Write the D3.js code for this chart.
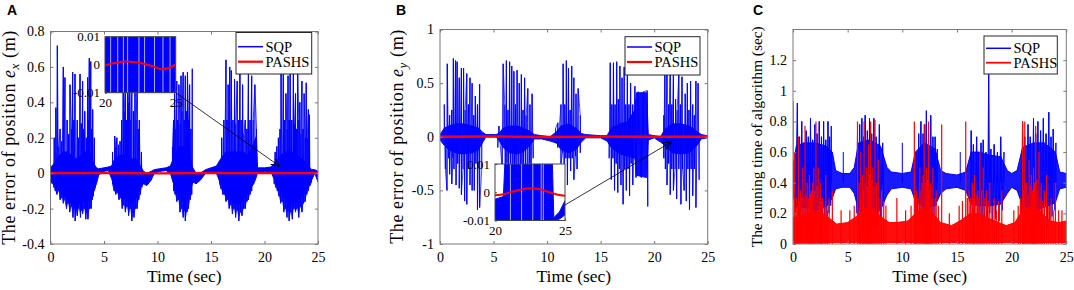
<!DOCTYPE html>
<html>
<head>
<meta charset="utf-8">
<script src="https://cdn.jsdelivr.net/npm/d3@7"></script>
<style>
  body { margin: 0; background: #fff; }
  svg { display: block; }
  text { font-family: "Liberation Serif", "Times New Roman", serif; fill: #000; }
  text.letter { font-family: "Liberation Sans", Arial, sans-serif; font-weight: bold; }
</style>
</head>
<body>
<svg id="chart" width="1074" height="290"></svg>
<script>
// ---------- data ----------
// every panel shares the time axis (sec)
const timeTicks = [0, 5, 10, 15, 20, 25];

// panel A: error of position e_x
const yTicksA = [-0.4, -0.2, 0, 0.2, 0.4, 0.6, 0.8];
// dense core of the SQP trace: [t, low, high]
const sqpCoreA = [
  [0, -0.05, 0.03], [0.4, -0.07, 0.06], [0.8, -0.1, 0.1], [1.2, -0.12, 0.12], [1.6, -0.15, 0.12],
  [2.0, -0.17, 0.1], [2.4, -0.18, 0.08], [2.8, -0.17, 0.1], [3.2, -0.16, 0.12], [3.6, -0.15, 0.12],
  [4.0, -0.1, 0.06], [4.3, -0.06, 0.03], [4.5, -0.01, 0.025], [5.0, 0.01, 0.03], [5.4, 0.015, 0.035],
  [5.7, -0.03, 0.04], [6.0, -0.08, 0.08], [6.5, -0.12, 0.1], [7.0, -0.15, 0.1], [7.5, -0.17, 0.08],
  [8.0, -0.14, 0.08], [8.4, -0.08, 0.04], [8.7, -0.06, 0.01], [9.0, -0.07, 0.0], [9.4, -0.04, 0.01],
  [9.7, 0.0, 0.02], [10.2, 0.01, 0.025], [10.8, 0.015, 0.03], [11.2, 0.0, 0.04], [11.6, -0.08, 0.1],
  [12.0, -0.13, 0.15], [12.5, -0.17, 0.15], [13.0, -0.12, 0.1], [13.3, -0.05, 0.03], [13.6, -0.06, 0.0],
  [14.0, -0.04, 0.0], [14.5, 0.0, 0.02], [15.0, 0.01, 0.03], [15.5, 0.0, 0.04], [15.9, -0.06, 0.08],
  [16.4, -0.12, 0.12], [17.0, -0.16, 0.12], [17.5, -0.18, 0.12], [18.0, -0.15, 0.12], [18.5, -0.1, 0.1],
  [19.0, -0.06, 0.17], [19.25, -0.02, 0.21], [19.35, 0.005, 0.03], [20.0, 0.01, 0.03], [20.6, 0.01, 0.035],
  [21.0, -0.05, 0.06], [21.5, -0.1, 0.1], [22.0, -0.15, 0.12], [22.5, -0.17, 0.12], [23.0, -0.16, 0.1],
  [23.5, -0.13, 0.08], [24.0, -0.09, 0.05], [24.4, -0.04, 0.02], [24.7, 0.0, 0.02], [25, -0.05, 0.01]
];
// tall SQP spikes above zero: [t, peak]
const sqpUpA = [
  [0.35, 0.2], [0.5, 0.37], [0.64, 0.72], [0.78, 0.15], [0.9, 0.25], [1.05, 0.18], [1.2, 0.6], [1.35, 0.54],
  [1.55, 0.3], [1.7, 0.22], [1.82, 0.5], [1.95, 0.25], [2.07, 0.57], [2.18, 0.3], [2.29, 0.56], [2.5, 0.3],
  [2.62, 0.2], [2.76, 0.56], [2.88, 0.28], [3.0, 0.52], [3.1, 0.25], [3.2, 0.35], [3.35, 0.2], [3.47, 0.54],
  [3.55, 0.3], [3.63, 0.65], [3.76, 0.63], [3.85, 0.25], [3.94, 0.36], [4.1, 0.2],
  [5.8, 0.12], [6.0, 0.21], [6.1, 0.15], [6.2, 0.2], [6.35, 0.16], [6.5, 0.18], [6.65, 0.3], [6.8, 0.6],
  [6.9, 0.35], [7.0, 0.55], [7.1, 0.3], [7.2, 0.62], [7.3, 0.4], [7.4, 0.58], [7.5, 0.3], [7.6, 0.6],
  [7.75, 0.35], [7.9, 0.55], [8.0, 0.3], [8.1, 0.5], [8.2, 0.25], [8.3, 0.3], [8.5, 0.12],
  [11.4, 0.15], [11.5, 0.3], [11.6, 0.45], [11.7, 0.25], [11.8, 0.52], [11.9, 0.3], [12.0, 0.5],
  [12.1, 0.28], [12.2, 0.55], [12.3, 0.35], [12.4, 0.57], [12.5, 0.3], [12.6, 0.55], [12.7, 0.35],
  [12.8, 0.57], [12.9, 0.3], [13.0, 0.5], [13.12, 0.25], [13.25, 0.59],
  [16.0, 0.2], [16.2, 0.3], [16.4, 0.64], [16.5, 0.3], [16.6, 0.5], [16.75, 0.6], [16.9, 0.58],
  [17.05, 0.3], [17.2, 0.53], [17.32, 0.28], [17.45, 0.52], [17.58, 0.3], [17.7, 0.57], [17.82, 0.3],
  [17.95, 0.5], [18.08, 0.22], [18.2, 0.3], [18.35, 0.25], [18.5, 0.57], [18.65, 0.3], [18.8, 0.55],
  [18.95, 0.3], [19.1, 0.5], [19.25, 0.25],
  [21.0, 0.12], [21.15, 0.15], [21.3, 0.2], [21.45, 0.25], [21.55, 0.56], [21.76, 0.6], [21.88, 0.3],
  [22.0, 0.45], [22.1, 0.25], [22.2, 0.55], [22.3, 0.3], [22.4, 0.64], [22.55, 0.3], [22.7, 0.58],
  [22.8, 0.28], [22.9, 0.45], [23.0, 0.25], [23.1, 0.56], [23.2, 0.3], [23.3, 0.4], [23.4, 0.22],
  [23.5, 0.52], [23.6, 0.25], [23.7, 0.45], [23.8, 0.2], [23.9, 0.51], [24.0, 0.2], [24.1, 0.36], [24.2, 0.33]
];
// SQP dips below zero: [t, trough]
const sqpDownA = [
  [0.3, -0.08], [0.45, -0.1], [0.6, -0.12], [0.75, -0.1], [0.9, -0.15], [1.05, -0.14], [1.2, -0.17],
  [1.35, -0.15], [1.5, -0.2], [1.65, -0.17], [1.8, -0.22], [1.95, -0.19], [2.1, -0.25], [2.2, -0.2],
  [2.3, -0.27], [2.4, -0.21], [2.5, -0.24], [2.65, -0.2], [2.8, -0.25], [2.9, -0.21], [3.0, -0.23],
  [3.15, -0.2], [3.3, -0.26], [3.4, -0.22], [3.5, -0.26], [3.65, -0.2], [3.8, -0.2], [3.9, -0.15],
  [4.0, -0.13], [4.1, -0.1], [4.2, -0.08],
  [5.8, -0.06], [5.95, -0.1], [6.1, -0.12], [6.25, -0.11], [6.4, -0.15], [6.55, -0.14], [6.7, -0.2],
  [6.85, -0.18], [7.0, -0.22], [7.15, -0.19], [7.3, -0.24], [7.45, -0.2], [7.6, -0.27], [7.7, -0.22],
  [7.8, -0.25], [7.95, -0.2], [8.1, -0.2], [8.25, -0.15], [8.4, -0.12], [8.55, -0.08],
  [11.5, -0.1], [11.65, -0.12], [11.8, -0.16], [11.95, -0.15], [12.1, -0.22], [12.25, -0.2],
  [12.4, -0.25], [12.5, -0.21], [12.6, -0.27], [12.75, -0.22], [12.9, -0.2], [13.05, -0.15], [13.2, -0.12],
  [15.8, -0.06], [15.95, -0.09], [16.1, -0.12], [16.25, -0.12], [16.4, -0.16], [16.55, -0.15],
  [16.7, -0.2], [16.85, -0.18], [17.0, -0.23], [17.15, -0.2], [17.3, -0.25], [17.45, -0.21],
  [17.6, -0.27], [17.75, -0.22], [17.9, -0.24], [18.05, -0.2], [18.2, -0.2], [18.35, -0.16],
  [18.5, -0.15], [18.65, -0.12], [18.8, -0.1],
  [20.9, -0.06], [21.05, -0.08], [21.2, -0.1], [21.35, -0.13], [21.5, -0.17], [21.65, -0.16],
  [21.8, -0.22], [21.95, -0.2], [22.1, -0.25], [22.2, -0.21], [22.3, -0.27], [22.45, -0.22],
  [22.6, -0.26], [22.75, -0.2], [22.9, -0.22], [23.05, -0.2], [23.2, -0.25], [23.35, -0.19],
  [23.5, -0.22], [23.65, -0.17], [23.8, -0.16], [23.95, -0.12], [24.1, -0.1], [24.25, -0.07], [24.4, -0.05]
];
const pashsA = [[0, 0], [5, 0.001], [10, -0.001], [15, 0.001], [20, 0], [25, 0]];
// zoomed inset 20-25 s
const insetBlueA = [[20, -0.01, 0.01], [25, -0.01, 0.01]];
const insetGapsA = [20.4, 20.9, 21.3, 21.6, 22.4, 22.8, 23.5, 24.1, 24.6];
const insetRedA = [
  [20, -0.0002], [20.5, 0.0004], [21, 0.0009], [21.5, 0.0011], [22, 0.001], [22.5, 0.0006],
  [23, 0.0], [23.5, -0.0008], [24, -0.0016], [24.5, -0.0012], [25, 0.0]
];

// panel B: error of position e_y
const yTicksB = [-1, -0.5, 0, 0.5, 1];
const sqpCoreB = [
  [0, -0.03, 0.02], [0.4, -0.08, 0.08], [0.8, -0.12, 0.1], [1.5, -0.15, 0.12], [2.2, -0.16, 0.12],
  [3.0, -0.15, 0.1], [3.6, -0.12, 0.08], [4.0, -0.05, 0.04], [4.3, 0.0, 0.02], [5.2, 0.0, 0.02],
  [5.5, -0.03, 0.03], [5.9, -0.1, 0.08], [6.5, -0.15, 0.1], [7.2, -0.16, 0.1], [7.8, -0.14, 0.08],
  [8.4, -0.08, 0.05], [8.8, -0.02, 0.02], [9.5, -0.02, 0.01], [10.3, -0.04, 0.0], [10.9, -0.06, 0.05],
  [11.3, -0.12, 0.1], [12.0, -0.15, 0.12], [12.7, -0.12, 0.08], [13.2, -0.05, 0.03], [13.6, -0.01, 0.02],
  [15.0, -0.01, 0.01], [15.6, -0.04, 0.01], [16.0, -0.1, 0.08], [16.8, -0.16, 0.12], [17.5, -0.18, 0.14],
  [18.2, -0.2, 0.25], [18.35, -0.36, 0.41], [19.3, -0.38, 0.41], [19.45, -0.03, 0.02], [20.0, -0.01, 0.01],
  [20.6, -0.05, 0.0], [21.0, -0.08, 0.07], [21.7, -0.15, 0.12], [22.5, -0.16, 0.12], [23.3, -0.15, 0.1],
  [24.0, -0.08, 0.05], [24.4, -0.02, 0.02], [25, -0.01, 0.01]
];
const sqpUpB = [
  [0.4, 0.3], [0.68, 0.68], [0.9, 0.2], [1.1, 0.25], [1.25, 0.73], [1.45, 0.71], [1.6, 0.7], [1.8, 0.55],
  [2.0, 0.64], [2.2, 0.64], [2.35, 0.25], [2.5, 0.59], [2.65, 0.3], [2.8, 0.55], [3.0, 0.5], [3.15, 0.2],
  [3.3, 0.38], [3.5, 0.3], [3.7, 0.49],
  [5.5, 0.1], [5.9, 0.68], [6.05, 0.3], [6.2, 0.71], [6.35, 0.25], [6.5, 0.7], [6.7, 0.66], [6.9, 0.61],
  [7.05, 0.3], [7.2, 0.62], [7.4, 0.5], [7.6, 0.58], [7.75, 0.25], [7.9, 0.55], [8.05, 0.2], [8.2, 0.45],
  [8.4, 0.3], [8.6, 0.4],
  [10.8, 0.08], [11.0, 0.13], [11.3, 0.3], [11.5, 0.68], [11.65, 0.3], [11.8, 0.71], [12.0, 0.64],
  [12.15, 0.25], [12.3, 0.66], [12.5, 0.55], [12.7, 0.4], [12.9, 0.45], [13.1, 0.2],
  [15.9, 0.69], [16.05, 0.3], [16.2, 0.69], [16.35, 0.3], [16.5, 0.7], [16.65, 0.35], [16.8, 0.66],
  [17.0, 0.55], [17.2, 0.65], [17.35, 0.3], [17.5, 0.6], [17.65, 0.3], [17.8, 0.5], [18.0, 0.3],
  [18.2, 0.47], [18.5, 0.42], [19.0, 0.42], [19.35, 0.43],
  [20.9, 0.2], [21.0, 0.68], [21.2, 0.7], [21.35, 0.3], [21.5, 0.66], [21.65, 0.3], [21.8, 0.6], [22.0, 0.35],
  [22.15, 0.25], [22.3, 0.58], [22.45, 0.3], [22.6, 0.56], [22.9, 0.4], [23.1, 0.5], [23.25, 0.25],
  [23.4, 0.52], [23.6, 0.3], [23.75, 0.2], [23.9, 0.52], [24.1, 0.5]
];
const sqpDownB = [
  [0.5, -0.3], [0.65, -0.5], [0.8, -0.2], [0.9, -0.35], [1.1, -0.44], [1.2, -0.2], [1.3, -0.3],
  [1.5, -0.45], [1.65, -0.25], [1.8, -0.48], [2.0, -0.54], [2.15, -0.3], [2.3, -0.6], [2.5, -0.63],
  [2.65, -0.3], [2.8, -0.45], [3.0, -0.5], [3.2, -0.5], [3.35, -0.25], [3.5, -0.68], [3.7, -0.66], [3.9, -0.3],
  [5.4, -0.1], [5.8, -0.3], [6.1, -0.55], [6.25, -0.25], [6.4, -0.45], [6.6, -0.6], [6.8, -0.72],
  [6.95, -0.3], [7.1, -0.6], [7.3, -0.5], [7.5, -0.66], [7.65, -0.3], [7.8, -0.55], [8.0, -0.45],
  [8.2, -0.62], [8.35, -0.25], [8.5, -0.4], [8.7, -0.2],
  [11.0, -0.1], [11.3, -0.25], [11.45, -0.15], [11.6, -0.3], [11.75, -0.2], [11.9, -0.45], [12.05, -0.2],
  [12.2, -0.32], [12.35, -0.2], [12.5, -0.4], [12.65, -0.18], [12.8, -0.3], [13.1, -0.15],
  [15.8, -0.2], [16.0, -0.4], [16.15, -0.2], [16.3, -0.5], [16.45, -0.25], [16.6, -0.52], [16.75, -0.3],
  [16.9, -0.45], [17.1, -0.63], [17.25, -0.3], [17.4, -0.5], [17.55, -0.3], [17.7, -0.55], [17.85, -0.25],
  [18.0, -0.45], [18.3, -0.38], [18.8, -0.38], [19.4, -0.65],
  [20.9, -0.2], [21.05, -0.3], [21.2, -0.45], [21.35, -0.25], [21.5, -0.54], [21.65, -0.3], [21.8, -0.5],
  [21.95, -0.3], [22.1, -0.58], [22.3, -0.3], [22.5, -0.63], [22.65, -0.3], [22.8, -0.5], [23.0, -0.6],
  [23.15, -0.3], [23.3, -0.68], [23.45, -0.3], [23.6, -0.55], [23.75, -0.3], [23.9, -0.66], [24.2, -0.4]
];
const pashsB = [[0, 0], [5, 0.002], [10, -0.002], [15, 0.001], [20, 0], [25, 0]];
const insetBlueB = [
  [20, -0.01, -0.0025], [20.6, -0.01, -0.0015], [20.7, -0.01, 0.01], [24.1, -0.01, 0.01],
  [24.2, -0.01, -0.009], [24.6, -0.0095, -0.007], [25, -0.008, -0.003]
];
const insetGapsB = [21.1, 21.9, 22.7, 23.3, 23.45];
const insetRedB = [
  [20, -0.0011], [20.5, -0.0008], [21, -0.0002], [21.5, 0.0005], [22, 0.0011], [22.5, 0.0014],
  [23, 0.0012], [23.5, 0.0006], [24, -0.0002], [24.5, -0.0009], [25, -0.0012]
];

// panel C: running time of each algorithm (sec)
const yTicksC = [0, 0.2, 0.4, 0.6, 0.8, 1, 1.2];
const sqpCoreC = [
  [0, 0.32, 0.5], [0.3, 0.24, 0.64], [1.0, 0.24, 0.66], [2.0, 0.22, 0.66], [3.0, 0.24, 0.64], [3.6, 0.3, 0.6],
  [3.9, 0.36, 0.48], [4.5, 0.37, 0.46], [5.2, 0.37, 0.46], [5.6, 0.33, 0.5], [6.0, 0.22, 0.66],
  [7.0, 0.2, 0.68], [8.0, 0.22, 0.64], [8.6, 0.32, 0.5], [9.0, 0.36, 0.47], [10.0, 0.37, 0.46],
  [10.8, 0.36, 0.47], [11.2, 0.28, 0.6], [12.0, 0.24, 0.66], [13.0, 0.25, 0.62], [13.5, 0.33, 0.48],
  [14.0, 0.36, 0.46], [15.0, 0.37, 0.45], [15.8, 0.35, 0.47], [16.3, 0.26, 0.6], [17.0, 0.25, 0.6],
  [18.0, 0.25, 0.58], [19.0, 0.26, 0.57], [19.6, 0.33, 0.48], [20.0, 0.37, 0.46], [20.5, 0.35, 0.48],
  [21.0, 0.25, 0.63], [22.0, 0.22, 0.66], [23.0, 0.24, 0.66], [24.0, 0.27, 0.6], [24.4, 0.36, 0.47],
  [25, 0.37, 0.46]
];
const sqpUpC = [
  [0.4, 0.92], [0.6, 0.7], [0.8, 0.8], [1.0, 0.66], [1.2, 0.74], [1.4, 0.7], [1.6, 0.82], [1.8, 0.68],
  [2.0, 0.78], [2.2, 0.72], [2.4, 0.8], [2.6, 0.7], [2.8, 0.8], [3.0, 0.68], [3.2, 0.8], [3.35, 0.7],
  [3.5, 0.77], [4.6, 0.6],
  [5.9, 0.72], [6.1, 0.78], [6.3, 0.82], [6.45, 0.7], [6.6, 0.84], [6.8, 0.74], [7.0, 0.82], [7.2, 0.72],
  [7.4, 0.82], [7.6, 0.7], [7.9, 0.78], [8.2, 0.66], [10.0, 0.66],
  [11.3, 0.6], [11.5, 0.72], [11.7, 0.8], [11.9, 0.72], [12.05, 0.78], [12.2, 0.87], [12.4, 0.72],
  [12.6, 0.84], [12.8, 0.7], [13.0, 0.7], [13.2, 0.62], [15.3, 0.6],
  [16.3, 0.74], [16.5, 0.65], [16.8, 0.7], [17.0, 0.6], [17.2, 0.66], [17.4, 0.68], [17.65, 0.6],
  [17.9, 1.12], [18.1, 0.62], [18.4, 0.65], [18.7, 0.6], [19.0, 0.7], [19.3, 0.6],
  [21.0, 0.8], [21.2, 0.7], [21.5, 0.78], [21.7, 0.7], [22.0, 0.82], [22.2, 0.72], [22.4, 0.8],
  [22.65, 0.74], [22.9, 0.82], [23.15, 0.72], [23.4, 0.86], [23.6, 0.7], [23.8, 0.75], [24.05, 0.66]
];
const sqpDownC = [
  [0.2, 0.15], [0.5, 0.1], [0.7, 0.05], [0.9, 0.14], [1.1, 0.12], [1.3, 0.1], [1.5, 0.18], [1.7, 0.15],
  [1.9, 0.12], [2.1, 0.08], [2.3, 0.16], [2.5, 0.12], [2.7, 0.14], [2.9, 0.1], [3.1, 0.16], [3.3, 0.2],
  [3.45, 0.25], [5.8, 0.2], [6.0, 0.12], [6.2, 0.1], [6.4, 0.05], [6.55, 0.15], [6.7, 0.12], [6.9, 0.1],
  [7.1, 0.08], [7.3, 0.14], [7.5, 0.1], [7.75, 0.12], [8.0, 0.15], [8.3, 0.25],
  [11.4, 0.2], [11.6, 0.1], [11.8, 0.12], [12.0, 0.05], [12.15, 0.14], [12.3, 0.1], [12.5, 0.12],
  [12.7, 0.15], [12.9, 0.18], [13.1, 0.25],
  [16.2, 0.2], [16.4, 0.12], [16.6, 0.1], [16.9, 0.15], [17.1, 0.18], [17.3, 0.12], [17.5, 0.1],
  [17.8, 0.15], [18.0, 0.2], [18.25, 0.12], [18.55, 0.16], [18.85, 0.15], [19.15, 0.22],
  [20.9, 0.2], [21.1, 0.14], [21.3, 0.1], [21.6, 0.12], [21.85, 0.08], [22.1, 0.14], [22.3, 0.12],
  [22.5, 0.1], [22.75, 0.05], [23.0, 0.12], [23.25, 0.1], [23.5, 0.15], [23.7, 0.18], [23.95, 0.22]
];
const pashsCoreC = [
  [0, 0.0, 0.17], [0.5, 0.01, 0.18], [1.5, 0.01, 0.21], [2.5, 0.01, 0.21], [3.3, 0.01, 0.17], [4.0, 0.01, 0.13],
  [5.0, 0.01, 0.14], [5.8, 0.01, 0.18], [6.5, 0.01, 0.23], [7.3, 0.01, 0.23], [8.0, 0.01, 0.18],
  [8.8, 0.01, 0.14], [9.5, 0.01, 0.14], [10.5, 0.01, 0.15], [11.2, 0.01, 0.2], [12.0, 0.01, 0.24],
  [12.8, 0.01, 0.2], [13.5, 0.01, 0.14], [14.5, 0.01, 0.12], [15.5, 0.01, 0.16], [16.2, 0.01, 0.2],
  [17.0, 0.01, 0.2], [17.8, 0.01, 0.17], [18.5, 0.01, 0.15], [19.5, 0.01, 0.12], [20.3, 0.01, 0.14],
  [21.0, 0.01, 0.22], [22.0, 0.01, 0.25], [22.8, 0.01, 0.2], [23.5, 0.01, 0.15], [24.3, 0.01, 0.14],
  [25, 0.01, 0.15]
];
const pashsUpC = [
  [0.0, 0.93], [0.15, 0.6], [0.3, 0.3], [0.4, 0.25], [0.5, 0.7], [0.6, 0.28], [0.7, 0.35], [0.8, 0.3],
  [0.9, 0.5], [1.0, 0.3], [1.1, 0.77], [1.2, 0.32], [1.3, 0.4], [1.4, 0.3], [1.5, 0.45], [1.6, 0.33],
  [1.7, 0.35], [1.8, 0.4], [1.9, 0.5], [2.0, 0.35], [2.1, 0.8], [2.2, 0.38], [2.3, 0.5], [2.4, 0.3],
  [2.5, 0.4], [2.6, 0.28], [2.7, 0.3], [2.85, 0.25], [3.0, 0.45], [3.15, 0.22], [3.3, 0.3], [3.6, 0.35],
  [4.4, 0.22], [5.2, 0.22], [5.6, 0.25], [5.9, 0.8], [6.05, 0.4], [6.15, 0.3], [6.2, 0.6], [6.35, 0.45],
  [6.45, 0.35], [6.5, 0.8], [6.6, 0.4], [6.7, 0.5], [6.8, 0.38], [6.9, 0.65], [7.0, 0.45], [7.1, 0.8],
  [7.2, 0.42], [7.3, 0.5], [7.4, 0.38], [7.5, 0.81], [7.65, 0.4], [7.8, 0.55], [7.95, 0.3], [8.1, 0.35],
  [8.3, 0.28], [8.5, 0.25], [9.5, 0.3], [10.3, 0.22], [10.8, 0.25], [11.1, 0.8], [11.2, 0.3], [11.3, 0.35],
  [11.45, 0.3], [11.6, 0.5], [11.7, 0.35], [11.8, 0.4], [11.9, 0.45], [12.0, 0.78], [12.1, 0.4],
  [12.2, 0.5], [12.3, 0.42], [12.4, 0.8], [12.5, 0.35], [12.6, 0.4], [12.7, 0.3], [12.8, 0.5], [13.0, 0.3],
  [13.1, 0.35], [13.3, 0.25], [13.6, 0.78], [14.3, 0.2], [15.2, 0.25], [15.5, 0.28], [15.8, 0.8],
  [15.95, 0.3], [16.1, 0.35], [16.25, 0.3], [16.4, 0.4], [16.5, 0.3], [16.6, 0.45], [16.75, 0.32],
  [16.9, 0.35], [17.0, 0.3], [17.1, 0.6], [17.25, 0.35], [17.4, 0.5], [17.55, 0.3], [17.7, 0.35],
  [17.85, 0.28], [18.0, 0.4], [18.2, 0.25], [18.4, 0.3], [18.6, 0.22], [18.8, 0.28], [19.1, 0.35],
  [20.2, 0.22], [20.6, 0.25], [20.8, 0.3], [21.0, 0.8], [21.1, 0.35], [21.2, 0.8], [21.3, 0.4], [21.4, 0.4],
  [21.5, 0.32], [21.6, 0.55], [21.7, 0.38], [21.8, 0.45], [21.9, 0.35], [22.0, 0.5], [22.1, 0.4],
  [22.2, 0.77], [22.3, 0.42], [22.4, 0.35], [22.5, 0.6], [22.6, 0.3], [22.7, 0.4], [22.85, 0.28],
  [23.0, 0.35], [23.2, 0.45], [23.4, 0.25], [23.6, 0.3], [23.8, 0.22], [24.0, 0.4], [24.3, 0.22], [24.6, 0.22]
];

const legendNames = ["SQP", "PASHS"];
const legendColors = ["#0000ff", "#ff0000"];

// ---------- drawing ----------
const svg = d3.select("#chart");
const fmt = d => String(+d.toFixed(3)); // matlab style labels: 0.8, -0.2, 1
const AXIS_GRAY = "#7a7a7a";
let clipId = 0;

// cut a time-sorted list wherever the trace goes quiet (gap between bursts)
function splitRuns(pts, maxGap) {
  const runs = [];
  let cur = [];
  pts.forEach(p => {
    if (cur.length && p[0] - cur[cur.length - 1][0] > maxGap) { runs.push(cur); cur = []; }
    cur.push(p);
  });
  if (cur.length) runs.push(cur);
  return runs;
}

function axesBox(b, yDomain, yTicks) {
  const x = d3.scaleLinear().domain([0, 25]).range([b.x0, b.x1]);
  const y = d3.scaleLinear().domain(yDomain).range([b.y1, b.y0]);
  const id = "clip" + (clipId++);
  svg.append("clipPath").attr("id", id).append("rect")
    .attr("x", b.x0).attr("y", b.y0).attr("width", b.x1 - b.x0).attr("height", b.y1 - b.y0);
  const plot = svg.append("g").attr("clip-path", `url(#${id})`);
  return { x, y, plot, b, yTicks };
}

function drawFrame(ax, opts) {
  const { x, y, b, yTicks } = ax;
  const g = svg.append("g");
  // ticks inward on all four sides, labels only left + bottom
  g.append("g").attr("transform", `translate(${b.x0},0)`)
    .call(d3.axisLeft(y).tickValues(yTicks).tickFormat(fmt).tickSize(-3).tickSizeOuter(0).tickPadding(6));
  g.append("g").attr("transform", `translate(0,${b.y1})`)
    .call(d3.axisBottom(x).tickValues(timeTicks).tickFormat(fmt).tickSize(-3).tickSizeOuter(0).tickPadding(8));
  g.append("g").attr("transform", `translate(${b.x1},0)`)
    .call(d3.axisRight(y).tickValues(yTicks).tickFormat("").tickSize(-3).tickSizeOuter(0));
  g.append("g").attr("transform", `translate(0,${b.y0})`)
    .call(d3.axisTop(x).tickValues(timeTicks).tickFormat("").tickSize(-3).tickSizeOuter(0));
  g.selectAll(".domain").remove();
  g.selectAll(".tick line").attr("stroke", AXIS_GRAY);
  g.selectAll(".tick text").attr("font-size", 14).attr("fill", "#000");
  g.append("rect").attr("x", b.x0).attr("y", b.y0).attr("width", b.x1 - b.x0).attr("height", b.y1 - b.y0)
    .attr("fill", "none").attr("stroke", AXIS_GRAY).attr("stroke-width", 1);

  // x label
  svg.append("text").attr("x", (b.x0 + b.x1) / 2).attr("y", 281.5).attr("text-anchor", "middle")
    .attr("font-size", 17.5).text("Time (sec)");
  // y label, rotated
  const yl = svg.append("text")
    .attr("transform", `translate(${opts.labelX},${(b.y0 + b.y1) / 2}) rotate(-90)`)
    .attr("text-anchor", "middle").attr("font-size", opts.labelSize)
    .attr("textLength", opts.labelLen).attr("lengthAdjust", "spacing");
  opts.label(yl);
  // panel letter
  svg.append("text").attr("class", "letter").attr("x", opts.letterX).attr("y", 15)
    .attr("font-size", 14).text(opts.letter);
}

function drawBand(ax, data, color, opacity) {
  ax.plot.append("path").datum(data)
    .attr("d", d3.area().x(d => ax.x(d[0])).y0(d => ax.y(d[1])).y1(d => ax.y(d[2])))
    .attr("fill", color).attr("fill-opacity", opacity)
    .attr("stroke", color).attr("stroke-width", 1);
}

function drawSpikes(ax, data, base, color, width) {
  ax.plot.append("g").selectAll("line").data(data).join("line")
    .attr("x1", d => ax.x(d[0])).attr("x2", d => ax.x(d[0]))
    .attr("y1", ax.y(base)).attr("y2", d => ax.y(d[1]))
    .attr("stroke", color).attr("stroke-width", width);
}

// oscillation between the peaks and the dips, drawn burst by burst
function drawZigzag(ax, up, down, color, width) {
  const pts = up.concat(down).sort((a, b) => a[0] - b[0]);
  const line = d3.line().x(d => ax.x(d[0])).y(d => ax.y(d[1]));
  ax.plot.append("g").selectAll("path").data(splitRuns(pts, 0.8)).join("path")
    .attr("d", line).attr("fill", "none").attr("stroke", color).attr("stroke-width", width);
}

function drawDownEnvelope(ax, data, color, opacity) {
  const area = d3.area().x(d => ax.x(d[0])).y0(ax.y(0)).y1(d => ax.y(d[1]));
  ax.plot.append("g").selectAll("path").data(splitRuns(data, 0.8)).join("path")
    .attr("d", area).attr("fill", color).attr("fill-opacity", opacity);
}

function drawLine(ax, data, color, width) {
  ax.plot.append("path").datum(data)
    .attr("d", d3.line().x(d => ax.x(d[0])).y(d => ax.y(d[1])))
    .attr("fill", "none").attr("stroke", color).attr("stroke-width", width);
}

function drawInset(box, blue, gaps, red) {
  const x = d3.scaleLinear().domain([20, 25]).range([box.x0, box.x1]);
  const y = d3.scaleLinear().domain([-0.01, 0.01]).range([box.y1, box.y0]);
  const id = "clip" + (clipId++);
  svg.append("clipPath").attr("id", id).append("rect")
    .attr("x", box.x0).attr("y", box.y0).attr("width", box.x1 - box.x0).attr("height", box.y1 - box.y0);
  svg.append("rect").attr("x", box.x0).attr("y", box.y0).attr("width", box.x1 - box.x0)
    .attr("height", box.y1 - box.y0).attr("fill", "#fff");
  const g = svg.append("g").attr("clip-path", `url(#${id})`);
  g.append("path").datum(blue)
    .attr("d", d3.area().x(d => x(d[0])).y0(d => y(d[1])).y1(d => y(d[2])))
    .attr("fill", "#0000ff").attr("stroke", "#0000ff").attr("stroke-width", 1);
  g.selectAll("line.gap").data(gaps).join("line").attr("class", "gap")
    .attr("x1", d => x(d)).attr("x2", d => x(d)).attr("y1", box.y0).attr("y2", box.y1)
    .attr("stroke", "#fff").attr("stroke-width", 0.8).attr("stroke-opacity", 0.85);
  g.append("path").datum(red)
    .attr("d", d3.line().x(d => x(d[0])).y(d => y(d[1])).curve(d3.curveMonotoneX))
    .attr("fill", "none").attr("stroke", "#ff0000").attr("stroke-width", 2);
  const f = svg.append("g");
  f.append("g").attr("transform", `translate(${box.x0},0)`)
    .call(d3.axisLeft(y).tickValues([-0.01, 0, 0.01]).tickFormat(fmt).tickSize(-2).tickSizeOuter(0).tickPadding(5));
  f.append("g").attr("transform", `translate(0,${box.y1})`)
    .call(d3.axisBottom(x).tickValues([20, 25]).tickFormat(fmt).tickSize(-2).tickSizeOuter(0).tickPadding(5));
  f.selectAll(".domain").remove();
  f.selectAll(".tick line").attr("stroke", "#444");
  f.selectAll(".tick text").attr("font-size", 13).attr("fill", "#000");
  f.append("rect").attr("x", box.x0).attr("y", box.y0).attr("width", box.x1 - box.x0)
    .attr("height", box.y1 - box.y0).attr("fill", "none").attr("stroke", "#444").attr("stroke-width", 1);
}

function drawArrow(x1, y1, x2, y2) {
  svg.append("line").attr("x1", x1).attr("y1", y1).attr("x2", x2).attr("y2", y2)
    .attr("stroke", "#000").attr("stroke-width", 0.8).attr("marker-end", "url(#arrowhead)");
}

function drawLegend(l) {
  const g = svg.append("g");
  g.append("rect").attr("x", l.x0).attr("y", l.y0).attr("width", l.x1 - l.x0).attr("height", l.y1 - l.y0)
    .attr("fill", "#fff").attr("stroke", "#262626").attr("stroke-width", 1);
  legendNames.forEach((name, i) => {
    const yy = l.rows[i];
    g.append("line").attr("x1", l.x0 + 2).attr("x2", l.x0 + 27).attr("y1", yy).attr("y2", yy)
      .attr("stroke", legendColors[i]).attr("stroke-width", l.widths[i]);
    g.append("text").attr("x", l.x0 + 29.5).attr("y", yy + 5).attr("font-size", 14.5).text(name);
  });
}

svg.append("defs").append("marker").attr("id", "arrowhead")
  .attr("viewBox", "0 0 10 10").attr("refX", 10).attr("refY", 5)
  .attr("markerWidth", 9).attr("markerHeight", 9).attr("markerUnits", "userSpaceOnUse").attr("orient", "auto")
  .append("path").attr("d", "M0,1 L10,5 L0,9").attr("fill", "none").attr("stroke", "#000").attr("stroke-width", 1.3);

// ----- panel A -----
const axA = axesBox({ x0: 50.5, x1: 318, y0: 31.5, y1: 244 }, [-0.4, 0.8], yTicksA);
drawDownEnvelope(axA, sqpDownA, "#0000ff", 0.75);
drawSpikes(axA, sqpDownA, 0, "#0000ff", 1);
drawBand(axA, sqpCoreA, "#0000ff", 1);
drawZigzag(axA, sqpUpA, sqpDownA, "#0000ff", 0.8);
drawSpikes(axA, sqpUpA, 0, "#0000ff", 1.1);
drawLine(axA, pashsA, "#ff0000", 2.4);
drawFrame(axA, {
  labelX: 14.5, labelSize: 18, labelLen: 214, letter: "A", letterX: 7,
  label: t => {
    t.append("tspan").text("The error of position ");
    t.append("tspan").attr("font-style", "italic").text("e");
    t.append("tspan").attr("font-style", "italic").attr("font-size", 13).attr("dy", 4).text("x");
    t.append("tspan").attr("dy", -4).text("  (m)");
  }
});
drawInset({ x0: 105, x1: 175.7, y0: 36.7, y1: 92.7 }, insetBlueA, insetGapsA, insetRedA);
drawArrow(175.7, 92.7, 280, 166.5);
drawLegend({ x0: 236, x1: 311.7, y0: 32.5, y1: 74, rows: [46.7, 61.7], widths: [1.5, 2.2] });

// ----- panel B -----
const axB = axesBox({ x0: 440, x1: 707.7, y0: 29.5, y1: 244 }, [-1, 1], yTicksB);
drawSpikes(axB, sqpDownB, 0, "#0000ff", 1.1);
drawBand(axB, sqpCoreB, "#0000ff", 0.95);
drawZigzag(axB, sqpUpB, sqpDownB, "#0000ff", 0.7);
drawSpikes(axB, sqpUpB, 0, "#0000ff", 1.1);
drawLine(axB, pashsB, "#ff0000", 2.4);
drawFrame(axB, {
  labelX: 403, labelSize: 18, labelLen: 214, letter: "B", letterX: 396,
  label: t => {
    t.append("tspan").text("The error of position ");
    t.append("tspan").attr("font-style", "italic").text("e");
    t.append("tspan").attr("font-style", "italic").attr("font-size", 13).attr("dy", 4).text("y");
    t.append("tspan").attr("dy", -4).text("  (m)");
  }
});
drawInset({ x0: 495, x1: 565, y0: 164, y1: 220.5 }, insetBlueB, insetGapsB, insetRedB);
drawArrow(565, 205, 672, 141.5);
drawLegend({ x0: 625, x1: 700, y0: 36.7, y1: 75, rows: [47, 62], widths: [1.5, 2.2] });

// ----- panel C -----
const axC = axesBox({ x0: 793, x1: 1066.3, y0: 29.5, y1: 244 }, [0, 1.4], yTicksC);
drawBand(axC, sqpCoreC, "#0000ff", 0.9);
drawZigzag(axC, sqpUpC, sqpDownC, "#0000ff", 0.9);
drawSpikes(axC, sqpUpC, 0.4, "#0000ff", 1);
drawBand(axC, pashsCoreC, "#ff0000", 0.95);
drawSpikes(axC, pashsUpC, 0, "#ff0000", 1.2);
drawFrame(axC, {
  labelX: 761.5, labelSize: 15.5, labelLen: 221, letter: "C", letterX: 753,
  label: t => t.text("The running time of algorithm (sec)")
});
drawLegend({ x0: 984, x1: 1057.3, y0: 36, y1: 74, rows: [48.3, 62.7], widths: [1.5, 1.8] });
</script>
</body>
</html>
